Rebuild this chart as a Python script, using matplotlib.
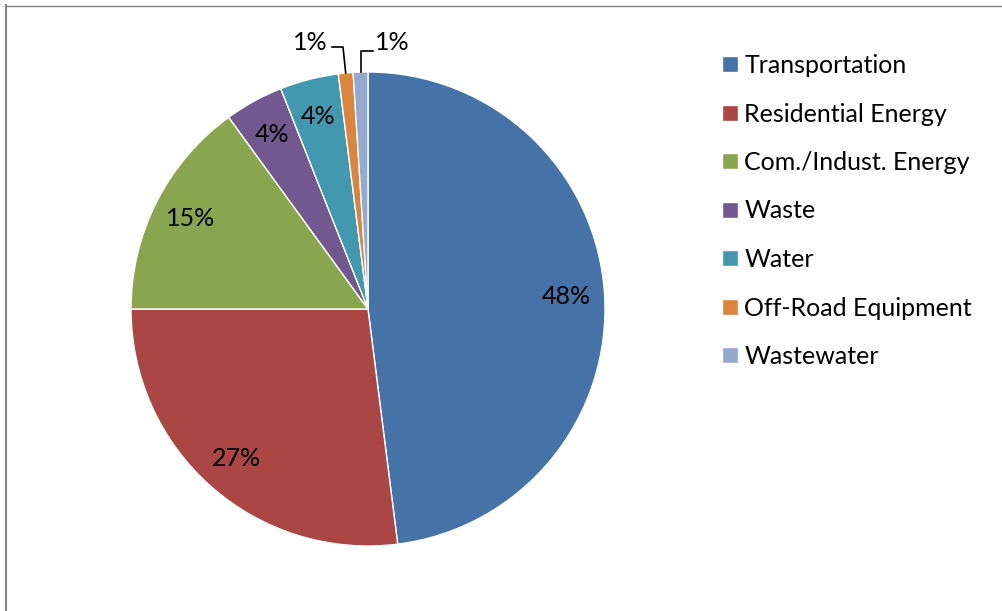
import matplotlib.pyplot as plt
import numpy as np
from matplotlib.lines import Line2D

plt.rcParams['font.family'] = ['Lato', 'DejaVu Sans']

categories = ['Transportation', 'Residential Energy', 'Com./Indust. Energy',
              'Waste', 'Water', 'Off-Road Equipment', 'Wastewater']
shares = [48, 27, 15, 4, 4, 1, 1]
colors = ['#4572A7', '#AA4643', '#89A54E', '#71588F', '#4198AF', '#DB843D', '#93A9CF']

W, H = 1002, 611
cx, cy, R = 368, 309, 237  # pie centre / radius in pixels

fig = plt.figure(figsize=(W / 100, H / 100), dpi=100)
ax = fig.add_axes([0, 0, 1, 1])

fs = 18
wedges, _ = ax.pie(shares, colors=colors, startangle=90, counterclock=False,
                   radius=1, center=(0, 0), frame=False,
                   wedgeprops=dict(edgecolor='white', linewidth=1.0))
ax.set_xlim(-cx / R, (W - cx) / R)
ax.set_ylim((cy - H) / R, cy / R)
ax.set_aspect('auto')
ax.axis('off')

total = sum(shares)
start = 90.0
mids = []
for v in shares:
    sweep = 360.0 * v / total
    mids.append(np.radians(start - sweep / 2))
    start -= sweep

# labels inside the larger slices
for v, a in zip(shares[:5], mids[:5]):
    r = 0.84
    ax.text(r * np.cos(a), r * np.sin(a), f'{v}%', ha='center', va='center',
            fontsize=fs, color='black')

# outside labels with leader lines for the two thin slices
def px(x, y):
    return (x - cx) / R, (cy - y) / R

a = mids[5]
ex, ey = np.cos(a), np.sin(a)
p1 = px(343, 47)
p2 = px(332, 47)
ax.plot([ex, p1[0], p2[0]], [ey, p1[1], p2[1]], color='black', lw=1.2)
tx, ty = px(310, 42)
ax.text(tx, ty, f'{shares[5]}%', ha='center', va='center', fontsize=fs)

a = mids[6]
ex, ey = np.cos(a), np.sin(a)
q1 = px(0, 51)
q2 = px(373, 51)
ax.plot([ex, ex, q2[0]], [ey, q1[1], q2[1]], color='black', lw=1.2)
tx, ty = px(392, 42)
ax.text(tx, ty, f'{shares[6]}%', ha='center', va='center', fontsize=fs)

leg = ax.legend(wedges, categories, loc='upper left',
                bbox_to_anchor=(722 / W, 1 - 54 / H), bbox_transform=fig.transFigure,
                frameon=False, fontsize=fs, handlelength=0.62, handleheight=0.62,
                handletextpad=0.28, labelspacing=1.02, borderpad=0, borderaxespad=0)

# chart area border (left and top edges visible)
fig.add_artist(Line2D([5.5 / W, 5.5 / W], [0, 1 - 5 / H], transform=fig.transFigure,
                      color='#878787', lw=1.5))
fig.add_artist(Line2D([5 / W, 1], [1 - 5.5 / H, 1 - 5.5 / H], transform=fig.transFigure,
                      color='#878787', lw=1.0))

fig.savefig('out.png', dpi=100, facecolor='white')
